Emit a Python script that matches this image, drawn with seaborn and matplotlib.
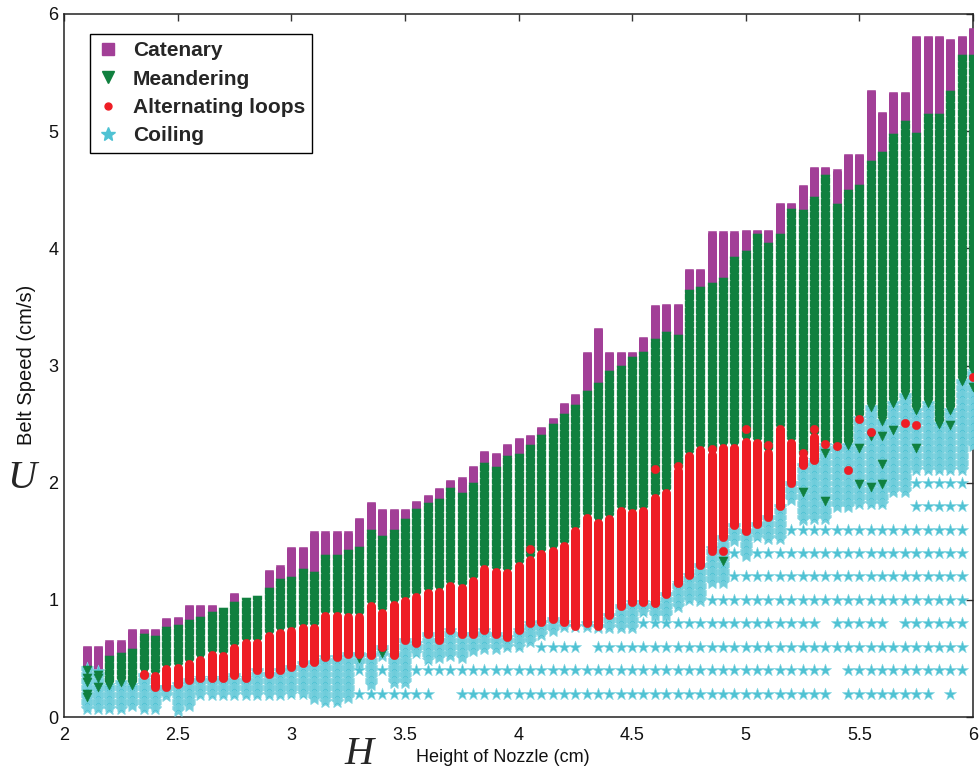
import numpy as np
import pandas as pd
import matplotlib
matplotlib.use("Agg")
import matplotlib.pyplot as plt
from matplotlib.lines import Line2D
import seaborn as sns

# ---------------- data ----------------
# nozzle heights H (cm) of the experimental columns
H = [2.10, 2.15, 2.20, 2.25, 2.30, 2.35, 2.40, 2.45, 2.50, 2.55,
     2.60, 2.65, 2.70, 2.75, 2.80, 2.85, 2.90, 2.95, 3.00, 3.05,
     3.10, 3.15, 3.20, 3.25, 3.30, 3.35, 3.40, 3.45, 3.50, 3.55,
     3.60, 3.65, 3.70, 3.75, 3.80, 3.85, 3.90, 3.95, 4.00, 4.05,
     4.10, 4.15, 4.20, 4.25, 4.30, 4.35, 4.40, 4.45, 4.50, 4.55,
     4.60, 4.65, 4.70, 4.75, 4.80, 4.85, 4.90, 4.95, 5.00, 5.05,
     5.10, 5.15, 5.20, 5.25, 5.30, 5.35, 5.40, 5.45, 5.50, 5.55,
     5.60, 5.65, 5.70, 5.75, 5.80, 5.85, 5.90, 5.95, 6.00]

# lowest belt speed of the fine sweep (coiling)
coil_lo = [0.07, 0.07, 0.07, 0.07, 0.09, 0.07, 0.07, 0.18, 0.05, 0.09,
           0.19, 0.19, 0.19, 0.19, 0.19, 0.19, 0.19, 0.19, 0.20, 0.20,
           0.15, 0.13, 0.13, 0.16, 0.45, 0.27, 0.52, 0.29, 0.29, 0.55,
           0.49, 0.50, 0.52, 0.50, 0.56, 0.58, 0.58, 0.60, 0.60, 0.64,
           0.70, 0.73, 0.77, 0.77, 0.77, 0.76, 0.76, 0.76, 0.76, 0.90,
           0.86, 0.86, 0.94, 1.00, 0.99, 1.14, 1.14, 1.50, 1.37, 1.54,
           1.52, 1.52, 1.85, 1.68, 1.69, 1.69, 1.79, 1.79, 1.82, 1.82,
           1.82, 1.92, 1.92, 2.11, 2.11, 2.11, 2.11, 2.11, 2.31]

# coiling -> alternating loops transition
coil_hi = [0.42, 0.39, 0.27, 0.30, 0.27, 0.36, 0.26, 0.26, 0.28, 0.32,
           0.33, 0.33, 0.33, 0.36, 0.33, 0.40, 0.37, 0.40, 0.43, 0.46,
           0.47, 0.51, 0.51, 0.54, 0.54, 0.53, 0.60, 0.53, 0.66, 0.63,
           0.71, 0.66, 0.74, 0.71, 0.71, 0.74, 0.71, 0.68, 0.74, 0.80,
           0.81, 0.84, 0.81, 0.78, 0.80, 0.78, 0.87, 0.95, 0.98, 0.98,
           0.97, 1.05, 1.14, 1.21, 1.30, 1.44, 1.54, 1.64, 1.59, 1.65,
           1.71, 1.80, 2.00, 2.15, 2.19, 2.32, 2.31, 2.32, 2.55, 2.65,
           2.53, 2.68, 2.75, 2.62, 2.68, 2.50, 2.62, 2.87, 2.95]

# alternating loops -> meandering transition
alt_hi = [0.42, 0.39, 0.27, 0.30, 0.27, 0.38, 0.36, 0.42, 0.43, 0.46,
          0.50, 0.54, 0.53, 0.60, 0.64, 0.64, 0.70, 0.73, 0.74, 0.77,
          0.77, 0.87, 0.87, 0.86, 0.86, 0.96, 0.90, 0.97, 1.00, 1.03,
          1.07, 1.08, 1.13, 1.11, 1.17, 1.27, 1.25, 1.24, 1.30, 1.35,
          1.40, 1.43, 1.47, 1.60, 1.71, 1.67, 1.70, 1.77, 1.75, 1.77,
          1.88, 1.92, 2.11, 2.24, 2.29, 2.25, 2.31, 2.31, 2.36, 2.35,
          2.26, 2.46, 2.35, 2.22, 2.40, 2.32, 2.31, 2.32, 2.55, 2.65,
          2.53, 2.68, 2.75, 2.62, 2.68, 2.50, 2.62, 2.87, 2.95]

# meandering -> catenary transition
mea_hi = [0.42, 0.39, 0.50, 0.52, 0.555, 0.68, 0.67, 0.74, 0.76, 0.80,
          0.83, 0.87, 0.91, 0.955, 0.99, 1.01, 1.08, 1.15, 1.17, 1.24,
          1.21, 1.36, 1.36, 1.40, 1.425, 1.57, 1.52, 1.57, 1.67, 1.75,
          1.80, 1.84, 1.93, 1.89, 1.97, 2.14, 2.11, 2.20, 2.22, 2.30,
          2.38, 2.48, 2.56, 2.64, 2.76, 2.83, 2.93, 2.97, 3.05, 3.09,
          3.20, 3.26, 3.24, 3.62, 3.65, 3.68, 3.72, 3.90, 3.95, 4.10,
          4.02, 4.10, 4.31, 4.30, 4.41, 4.60, 4.35, 4.47, 4.52, 4.72,
          4.80, 4.95, 5.06, 4.96, 5.12, 5.12, 5.32, 5.63, 5.63]

# highest belt speed tested (catenary top)
cat_hi = [0.58, 0.58, 0.63, 0.63, 0.725, 0.725, 0.725, 0.82, 0.83, 0.93,
          0.93, 0.93, 0.91, 1.03, 0.99, 1.01, 1.23, 1.27, 1.425, 1.425,
          1.56, 1.56, 1.56, 1.56, 1.67, 1.81, 1.75, 1.75, 1.75, 1.82,
          1.87, 1.93, 2.00, 2.02, 2.12, 2.25, 2.23, 2.31, 2.36, 2.38,
          2.45, 2.53, 2.66, 2.73, 3.09, 3.30, 3.09, 3.09, 3.09, 3.22,
          3.49, 3.50, 3.50, 3.80, 3.80, 4.12, 4.12, 4.12, 4.13, 4.13,
          4.13, 4.36, 4.36, 4.52, 4.67, 4.67, 4.65, 4.78, 4.78, 5.33,
          5.14, 5.31, 5.31, 5.785, 5.785, 5.785, 5.76, 5.785, 5.86]

# highest speed of the coarse (0.2 cm/s) coiling sweep below the fine sweep
coarse_hi = [0, 0, 0, 0, 0, 0, 0, 0, 0, 0,
             0, 0, 0, 0, 0, 0, 0, 0, 0, 0,
             0, 0, 0, 0, 0.4, 0.2, 0.4, 0.2, 0.2, 0.4,
             0.4, 0.4, 0.4, 0.4, 0.4, 0.4, 0.4, 0.4, 0.4, 0.4,
             0.6, 0.6, 0.6, 0.6, 0.6, 0.6, 0.6, 0.6, 0.6, 0.8,
             0.8, 0.8, 0.8, 0.8, 0.8, 1.0, 1.0, 1.4, 1.2, 1.4,
             1.4, 1.4, 1.6, 1.6, 1.6, 1.6, 1.6, 1.6, 1.6, 1.6,
             1.6, 1.6, 1.6, 2.0, 2.0, 2.0, 2.0, 2.0, 0]
coarse_missing_H = [3.65, 3.70, 4.30, 5.35, 5.65, 5.40, 5.40, 5.85, 5.95]
coarse_missing_U = [0.2, 0.2, 0.6, 0.8, 0.8, 0.4, 0.2, 0.2, 0.2]

# isolated points that fall outside the main bands
extra_alt_H = [4.05, 4.60, 4.70, 4.85, 4.85, 4.90, 5.00, 5.10, 5.15, 5.25,
               5.30, 5.35, 5.40, 5.45, 5.50, 5.55, 5.70, 5.75, 6.00]
extra_alt_U = [1.43, 2.12, 2.14, 2.29, 1.42, 1.42, 2.46, 2.32, 2.46, 2.25,
               2.46, 2.33, 2.31, 2.11, 2.54, 2.43, 2.51, 2.49, 2.90]
extra_mea_H = [2.10, 2.10, 2.10, 2.10, 2.10, 2.15, 2.15, 2.15, 3.30, 3.40,
               4.90, 5.25, 5.30, 5.35, 5.35, 5.50, 5.50, 5.55, 5.55, 5.60,
               5.60, 5.60, 5.65, 5.75, 5.90, 6.00]
extra_mea_U = [0.17, 0.20, 0.30, 0.33, 0.40, 0.26, 0.33, 0.36, 0.50, 0.55,
               1.33, 1.92, 2.25, 2.25, 1.84, 2.30, 1.99, 2.40, 1.96, 2.40,
               2.16, 1.99, 2.45, 2.30, 2.49, 2.82]

legend_labels = ["Catenary", "Meandering", "Alternating loops", "Coiling"]
SWEEP = 0.01     # fine belt-speed sweep step (cm/s)
COARSE = 0.2     # coarse belt-speed sweep step (cm/s)

# ---------------- build the tables ----------------
rows = []
def add_range(h, lo, hi, phase):
    for u in np.arange(lo, hi - 1e-9, SWEEP):
        rows.append((h, round(u, 3), phase))

for i, h in enumerate(H):
    add_range(h, coil_lo[i], coil_hi[i] + SWEEP, "Coiling")
    add_range(h, coil_hi[i], alt_hi[i], "Alternating loops")
    add_range(h, alt_hi[i], mea_hi[i], "Meandering")
    add_range(h, mea_hi[i], cat_hi[i], "Catenary")
    if coarse_hi[i] > 0:
        for u in np.arange(COARSE, coarse_hi[i] + 1e-9, COARSE):
            miss = any(abs(mh - h) < 1e-6 and abs(mu - u) < 1e-6
                       for mh, mu in zip(coarse_missing_H, coarse_missing_U))
            if not miss:
                rows.append((h, round(u, 3), "Coiling"))
for h, u in zip(extra_alt_H, extra_alt_U):
    rows.append((h, u, "Alternating loops"))
for h, u in zip(extra_mea_H, extra_mea_U):
    rows.append((h, u, "Meandering"))

df = pd.DataFrame(rows, columns=["H", "U", "phase"])

# ---------------- styling ----------------
C_CAT = "#A23F97"
C_MEA = "#10803F"
C_ALT = "#EE1D25"
C_COI = "#4FC2D3"

sns.set_theme(style="white")
plt.rcParams["font.family"] = ["Liberation Sans", "DejaVu Sans"]

fig = plt.figure(figsize=(9.8, 7.74), dpi=100)
ax = fig.add_axes([64 / 980, 57 / 774, 909 / 980, 703 / 774])

styles = [
    ("Catenary", "s", C_CAT, C_CAT, 38),
    ("Coiling", "*", C_COI, "#86D6E2", 85),
    ("Meandering", "v", C_MEA, C_MEA, 42),
    ("Alternating loops", "o", C_ALT, C_ALT, 36),
]
for name, mk, fc, ec, s in styles:
    sub = df[df["phase"] == name]
    sns.scatterplot(data=sub, x="H", y="U", marker=mk, color=fc,
                    edgecolor=ec, linewidth=0.4, s=s, ax=ax, legend=False,
                    zorder=3)

ax.set_xlim(2, 6)
ax.set_ylim(0, 6)
ax.set_xticks([2, 2.5, 3, 3.5, 4, 4.5, 5, 5.5, 6])
ax.set_xticklabels(["2", "2.5", "3", "3.5", "4", "4.5", "5", "5.5", "6"])
ax.set_yticks([0, 1, 2, 3, 4, 5, 6])
ax.set_xlabel("")
ax.set_ylabel("")
ax.tick_params(axis="both", which="major", direction="in", length=5,
               width=1.0, labelsize=13, top=True, right=True,
               color="#333333", labelcolor="#111111")
ax.tick_params(axis="x", pad=7)
ax.tick_params(axis="y", pad=4)
for sp in ax.spines.values():
    sp.set_visible(True)
    sp.set_color("#222222")
    sp.set_linewidth(1.1)

# legend
handles = [
    Line2D([], [], linestyle="none", marker="s", markersize=8,
           markerfacecolor=C_CAT, markeredgecolor=C_CAT),
    Line2D([], [], linestyle="none", marker="v", markersize=9,
           markerfacecolor=C_MEA, markeredgecolor=C_MEA),
    Line2D([], [], linestyle="none", marker="o", markersize=5,
           markerfacecolor=C_ALT, markeredgecolor=C_ALT),
    Line2D([], [], linestyle="none", marker="*", markersize=10,
           markerfacecolor=C_COI, markeredgecolor=C_COI),
]
leg = ax.legend(handles, legend_labels, loc="upper left",
                bbox_to_anchor=(26 / 909, (703 - 20) / 703),
                borderaxespad=0, frameon=True, fancybox=False,
                edgecolor="black", framealpha=1, handlelength=1.0,
                handletextpad=0.7, labelspacing=0.45, borderpad=0.35,
                prop={"weight": "bold", "size": 15})
leg.get_frame().set_linewidth(1.0)

# axis labels (symbol + description, as in the reference)
fig.text(359 / 980, 1 - 754 / 774, "H", ha="center", va="center",
         fontsize=29, style="italic", family=["Liberation Serif", "DejaVu Serif"])
fig.text(416 / 980, 1 - 758 / 774, "Height of Nozzle (cm)", ha="left",
         va="center", fontsize=13, color="#111111")
fig.text(22 / 980, 1 - 479 / 774, "U", ha="center", va="center",
         fontsize=29, style="italic",
         family=["Liberation Serif", "DejaVu Serif"])
fig.text(27 / 980, 1 - 365 / 774, "Belt Speed (cm/s)", ha="center",
         va="center", fontsize=14.5, rotation=90, color="#111111")

fig.savefig("out.png", dpi=100)
